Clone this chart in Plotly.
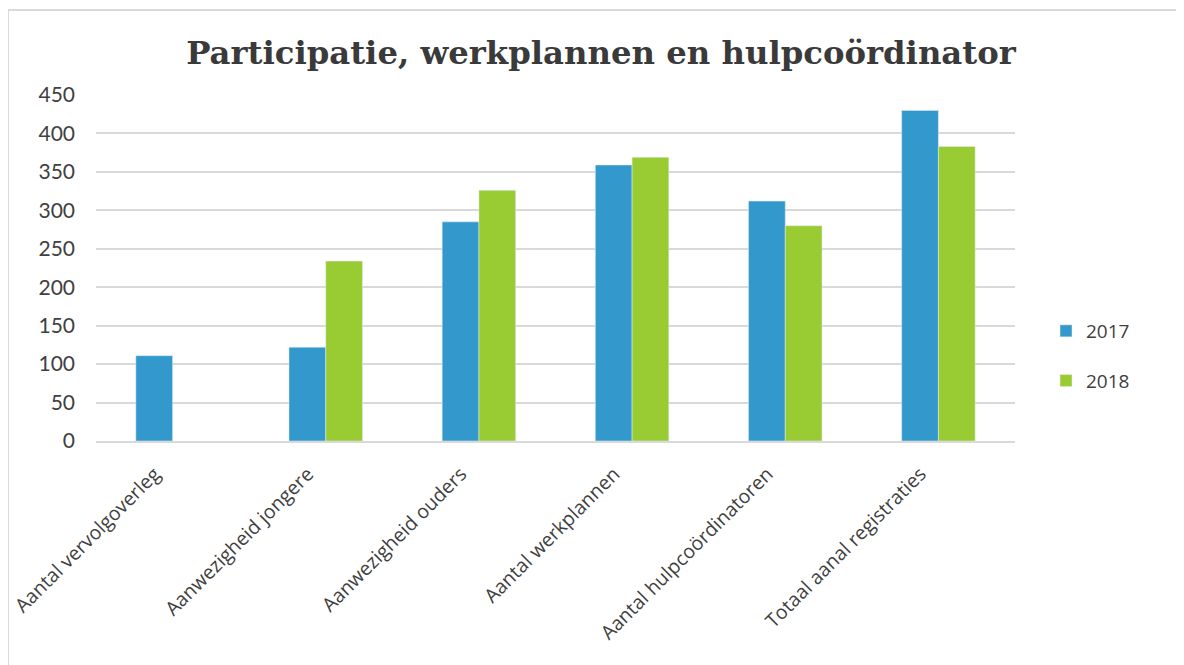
import plotly.graph_objects as go

categories = ["Aantal vervolgoverleg", "Aanwezigheid jongere", "Aanwezigheid ouders",
              "Aantal werkplannen", "Aantal hulpcoördinatoren", "Totaal aanal registraties"]
values_2017 = [111, 122, 285, 359, 312, 430]
values_2018 = [None, 234, 326, 369, 280, 383]
series_names = ["2017", "2018"]
y_ticks = [0, 50, 100, 150, 200, 250, 300, 350, 400, 450]

# page has an 8px body margin; figure coordinates = page coordinates - 8
W, H = 1176, 657
L, R, T, B = 88, 169, 87, 224
pw, ph = W - L - R, H - T - B

fig = go.Figure()
fig.add_trace(go.Bar(x=categories, y=values_2017, name=series_names[0], marker_color="#3399CC",
                     legendgroup="a"))
fig.add_trace(go.Bar(x=categories, y=values_2018, name=series_names[1], marker_color="#99CC33",
                     legendgroup="b"))

def px(xp):
    return (xp - L) / pw

def py(yp):
    return (H - B - yp) / ph

fig.add_shape(type="rect", xref="paper", yref="paper",
              x0=px(0), x1=px(1190), y0=py(675), y1=py(2),
              line=dict(color="#d9d9d9", width=2), fillcolor="rgba(0,0,0,0)", layer="below")

fig.update_layout(
    width=W, height=H,
    margin=dict(l=L, r=R, t=T, b=B, autoexpand=False),
    paper_bgcolor="white", plot_bgcolor="white",
    barmode="group", bargap=0.52, bargroupgap=0,
    title=dict(text="<b>Participatie, werkplannen en hulpcoördinator</b>",
               x=593 / W, xanchor="center", y=1 - 45 / H, yanchor="middle",
               font=dict(family="DejaVu Serif", size=32.3, color="#3a3a3a")),
    xaxis=dict(tickangle=-45, tickfont=dict(family="Open Sans", size=19.5, color="#404040"),
               showline=True, linecolor="#d9d9d9", linewidth=2, ticks="",
               ticklabelstandoff=12, ticklabelshift=-18, automargin=False),
    yaxis=dict(range=[0, 450], tickvals=y_ticks, showgrid=True, gridcolor="#d9d9d9", gridwidth=1.5,
               tickfont=dict(family="Lato", size=21, color="#404040"), zeroline=False, ticks="",
               ticklabelstandoff=20, automargin=False),
    legend=dict(x=px(1038), y=py(348), xanchor="left", yanchor="middle",
                font=dict(family="Open Sans", size=19, color="#404040"),
                tracegroupgap=22, itemwidth=30),
    showlegend=True,
)
fig.write_html("out.html")
